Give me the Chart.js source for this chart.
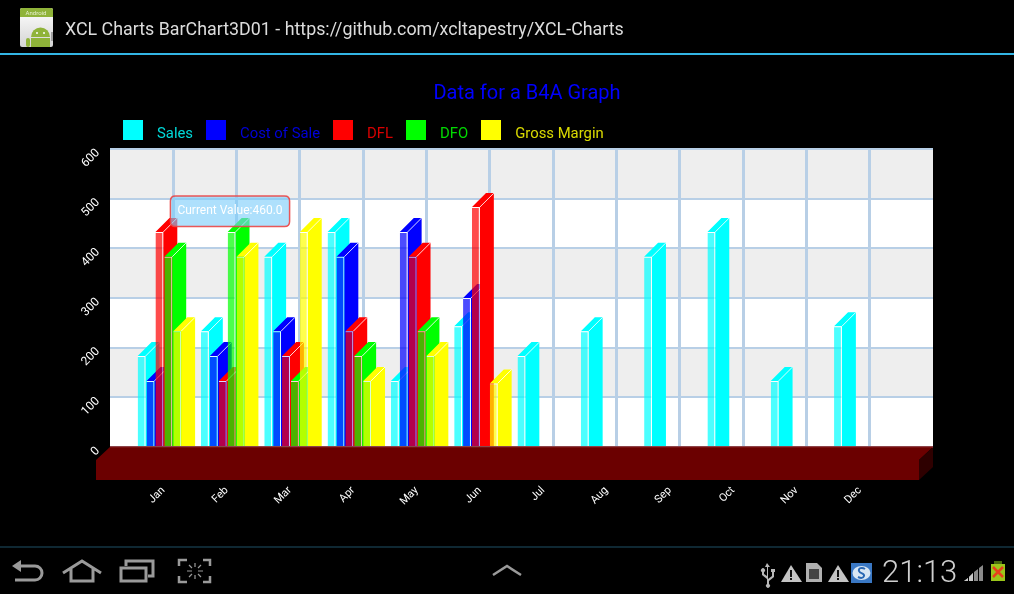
<!DOCTYPE html>
<html lang="en">
<head>
<meta charset="UTF-8">
<title>XCL Charts BarChart3D01</title>
<script src="https://cdn.jsdelivr.net/npm/chart.js"></script>
<style>
    html, body { margin: 0; padding: 0; background: #000; width: 1014px; height: 594px; overflow: hidden; font-family: Roboto, sans-serif; }
    #chart { position: absolute; left: 0; top: 0; }
    .abs { position: absolute; }
    #appTitle { left: 65px; top: 18px; color: #dcdcdc; font-size: 17.85px; line-height: 22px; white-space: nowrap; }
    #topLine { left: 0; top: 53px; width: 1014px; height: 2px; background: #33b5e5; }
    #bottomLine { left: 0; top: 546px; width: 1014px; height: 2px; background: #0f2833; }
    #clock { left: 882px; top: 553px; color: #d0d0d0; font-size: 31px; line-height: 38px; font-weight: 300; }
    #legend { left: 123px; top: 120px; height: 26px; display: flex; font-size: 14.85px; }
    #legend .box { width: 20px; height: 20px; margin-right: 14px; }
    #legend .name { margin-right: 13px; line-height: 26px; opacity: 0.85; }
</style>
</head>
<body>
<canvas id="chart" width="1014" height="594"></canvas>

<!-- Android system bars around the chart -->
<svg class="abs" style="left:20px;top:8px" width="33" height="40" viewBox="0 0 33 40">
    <defs>
        <linearGradient id="iconBg" x1="0" y1="0" x2="0" y2="1">
            <stop offset="0" stop-color="#ffffff"/>
            <stop offset="1" stop-color="#d4d4d4"/>
        </linearGradient>
    </defs>
    <rect width="33" height="39" rx="2" fill="url(#iconBg)"/>
    <path d="M0 2a2 2 0 0 1 2-2h29a2 2 0 0 1 2 2v7H0z" fill="#8fb339"/>
    <text x="16" y="7" font-size="6" fill="#e8f0d0" text-anchor="middle" font-family="Roboto">Android</text>
    <path d="M11 29a9.500 9.500 0 0 1 19 0z" fill="#8fb339"/>
    <rect x="11" y="30" width="19" height="9" fill="#8fb339"/>
    <rect x="6" y="30" width="4" height="9" rx="2" fill="#8fb339"/>
    <rect x="31" y="24" width="2" height="9" fill="#a0a0a0"/>
    <circle cx="17" cy="25" r="1" fill="#fff"/>
    <circle cx="24" cy="25" r="1" fill="#fff"/>
</svg>
<div id="appTitle" class="abs">XCL Charts BarChart3D01 - https://github.com/xcltapestry/XCL-Charts</div>
<div id="topLine" class="abs"></div>
<div id="legend" class="abs"></div>
<div id="bottomLine" class="abs"></div>

<svg class="abs" style="left:0;top:548px" width="540" height="46" viewBox="0 548 540 46" fill="none" stroke="#9a9a9a" stroke-width="3">
    <path d="M20 566h15a7 7 0 0 1 0 14H15"/>
    <path d="M21 560l-9 6 9 6z" fill="#9a9a9a" stroke="none"/>
    <path d="M63 573l19-12 19 12M71 569v12h22v-12"/>
    <rect x="121" y="568" width="25" height="13"/>
    <path d="M126 566v-5h27v15h-5"/>
    <path d="M179 566v-6h8M203 560h7v6M179 576v6h8M203 582h7v-6" stroke-width="2.5"/>
    <path d="M187 571h5M198 571h5M195 563v4M195 575v4M189 565l3 3M198 574l3 3M201 565l-3 3M192 574l-3 3" stroke-width="1.2"/>
    <path d="M493 575l14-9 14 9" stroke-width="2.5"/>
</svg>

<svg class="abs" style="left:755px;top:555px" width="259" height="34" viewBox="755 555 259 34">
    <path d="M767 563l3 4h-2v12l4-3v-4h-1v-3h4v3h-1v5l-5 4v3a2 2 0 1 1-2 0v-5l-5-4v-3a2 2 0 1 1 2 0v2l3 2v-9h-2z" fill="#b8b8b8"/>
    <path d="M791 565l11 17h-21z" fill="#c4c4c4"/>
    <path d="M790 570h2v7h-2zM790 578h2v2h-2z" fill="#111"/>
    <path d="M806 563h11l5 5v14h-16z" fill="#b0b0b0"/>
    <rect x="809" y="569" width="10" height="10" fill="#444"/>
    <path d="M838 565l11 17h-21z" fill="#c4c4c4"/>
    <path d="M837 570h2v7h-2zM837 578h2v2h-2z" fill="#111"/>
    <rect x="851" y="563" width="21" height="20" fill="#3a78c4"/>
    <ellipse cx="861.5" cy="573" rx="9" ry="7" fill="#d8e6f4"/>
    <path d="M865 569c-3-2-7-1-6 2s6 2 5 5-4 2-6 1" fill="none" stroke="#2a68b4" stroke-width="2"/>
    <path d="M964 581l4-3v3zM969 581v-4l4-4v8zM974 581v-9l4-3v12zM979 581v-13l4-3v16z" fill="#8a8a8a"/>
    <path d="M964 581l4-3v3zM969 581v-4l4-4v8z" fill="#c8c8c8"/>
    <rect x="994" y="561" width="8" height="3" fill="#4a6b10"/>
    <rect x="991" y="564" width="14" height="17" fill="#9bc61a"/>
    <path d="M993 567l10 10M1003 567l-10 10" stroke="#e8401c" stroke-width="2.5"/>
</svg>
<div id="clock" class="abs">21:13</div>

<script>
    const months = ['Jan', 'Feb', 'Mar', 'Apr', 'May', 'Jun', 'Jul', 'Aug', 'Sep', 'Oct', 'Nov', 'Dec'];
    const seriesNames = ['Sales', 'Cost of Sale', 'DFL', 'DFO', 'Gross Margin'];
    const seriesColors = ['#00ffff', '#0000ff', '#ff0000', '#00ff00', '#ffff00'];

    const sales = [183, 233, 383, 433, 133, 243, 183, 233, 383, 433, 133, 243];
    const costOfSale = [133, 183, 233, 383, 433, 300, null, null, null, null, null, null];
    const dfl = [433, 133, 183, 233, 383, 483, null, null, null, null, null, null];
    const dfo = [383, 433, 133, 183, 233, null, null, null, null, null, null, null];
    const grossMargin = [233, 383, 433, 133, 183, 128, null, null, null, null, null, null];
    const allSeries = [sales, costOfSale, dfl, dfo, grossMargin];

    const yTicks = [0, 100, 200, 300, 400, 500, 600];
    const tooltipText = 'Current Value:460.0';

    const DEPTH = 14;

    // legend is plain html because the box to text gap can't be set on the built-in one
    const legendEl = document.getElementById('legend');
    seriesNames.forEach((name, i) => {
        const box = document.createElement('div');
        box.className = 'box';
        box.style.background = seriesColors[i];
        const label = document.createElement('div');
        label.className = 'name';
        label.style.color = seriesColors[i];
        label.textContent = name;
        legendEl.append(box, label);
    });

    function withAlpha(hex, a) {
        const n = parseInt(hex.slice(1), 16);
        return `rgba(${n >> 16}, ${(n >> 8) & 255}, ${n & 255}, ${a})`;
    }

    // grey bands behind the grid, dark red floor, and 3D faces for the bars
    const bar3d = {
        id: 'bar3d',
        afterLayout(chart) {
            chart.titleBlock.left = 40;
            chart.titleBlock.right = 1014;
        },
        beforeDraw(chart) {
            const { ctx, chartArea, scales } = chart;
            ctx.save();
            ctx.fillStyle = '#ffffff';
            ctx.fillRect(chartArea.left, chartArea.top, chartArea.width, chartArea.height);
            ctx.fillStyle = '#eeeeee';
            for (let i = 1; i < yTicks.length - 1; i += 2) {
                const top = scales.y.getPixelForValue(yTicks[i + 1]);
                const bottom = scales.y.getPixelForValue(yTicks[i]);
                ctx.fillRect(chartArea.left, top, chartArea.width, bottom - top);
            }
            ctx.restore();
        },
        beforeDatasetsDraw(chart) {
            const { ctx, chartArea } = chart;
            const { left, right, bottom } = chartArea;
            ctx.save();
            // floor
            ctx.fillStyle = '#6b0000';
            ctx.beginPath();
            ctx.moveTo(left, bottom);
            ctx.lineTo(right, bottom);
            ctx.lineTo(right - DEPTH, bottom + 13);
            ctx.lineTo(right - DEPTH, bottom + 33);
            ctx.lineTo(left - DEPTH, bottom + 33);
            ctx.lineTo(left - DEPTH, bottom + 13);
            ctx.closePath();
            ctx.fill();
            ctx.fillStyle = '#2e0000';
            ctx.beginPath();
            ctx.moveTo(right, bottom);
            ctx.lineTo(right, bottom + 20);
            ctx.lineTo(right - DEPTH, bottom + 33);
            ctx.lineTo(right - DEPTH, bottom + 13);
            ctx.closePath();
            ctx.fill();

            // left series has to end up underneath, so draw in series order
            chart.getSortedVisibleDatasetMetas().forEach((meta, s) => {
                meta.data.forEach((bar, i) => {
                    if (allSeries[s][i] === null) return;
                    const p = bar.getProps(['x', 'y', 'base', 'width'], true);
                    const x1 = p.x - p.width / 2;
                    const x2 = p.x + p.width / 2;
                    ctx.fillStyle = seriesColors[s];
                    ctx.beginPath();
                    ctx.moveTo(x1, p.y);
                    ctx.lineTo(x1 + DEPTH, p.y - DEPTH);
                    ctx.lineTo(x2 + DEPTH, p.y - DEPTH);
                    ctx.lineTo(x2 + DEPTH, p.base);
                    ctx.lineTo(x2, p.base);
                    ctx.lineTo(x2, p.y);
                    ctx.closePath();
                    ctx.fill();
                    ctx.strokeStyle = 'rgba(255, 255, 255, 0.85)';
                    ctx.lineWidth = 1;
                    ctx.beginPath();
                    ctx.moveTo(x2, p.y);
                    ctx.lineTo(x2 + DEPTH, p.y - DEPTH);
                    ctx.stroke();
                });
                meta.controller.draw();
            });

            // back edge of the floor runs over the feet of the bars
            ctx.strokeStyle = 'rgba(125, 20, 20, 0.75)';
            ctx.lineWidth = 2;
            ctx.beginPath();
            ctx.moveTo(left, bottom);
            ctx.lineTo(right, bottom);
            ctx.stroke();
            ctx.restore();
            return false;
        }
    };

    Chart.Tooltip.positioners.fixedBox = function () {
        return { x: 230, y: 194, xAlign: 'center', yAlign: 'top' };
    };

    const chart = new Chart(document.getElementById('chart'), {
        type: 'bar',
        data: {
            datasets: allSeries.map((values, s) => ({
                label: seriesNames[s],
                data: values.map((v, i) => ({ x: i + 1, y: v })),
                backgroundColor: withAlpha(seriesColors[s], 0.7),
                borderColor: 'rgba(255, 255, 255, 0.85)',
                borderWidth: { top: 1, right: 1, left: 0, bottom: 0 },
                borderSkipped: false,
                categoryPercentage: 0.703,
                barPercentage: 0.88
            }))
        },
        plugins: [bar3d],
        options: {
            responsive: false,
            animation: false,
            events: [],
            layout: { padding: { right: 81 } },
            scales: {
                x: {
                    type: 'linear',
                    offset: false,
                    min: 0.22,
                    max: 13.22,
                    grid: { display: false },
                    border: { display: false },
                    afterBuildTicks(scale) {
                        scale.ticks = months.map((m, i) => ({ value: i + 1 }));
                    },
                    afterFit(scale) { scale.height = 147; },
                    ticks: {
                        color: '#ffffff',
                        font: { family: 'Roboto', size: 11 },
                        autoSkip: false,
                        minRotation: 45,
                        maxRotation: 45,
                        padding: 29,
                        labelOffset: 4,
                        callback: value => months[value - 1]
                    }
                },
                // vertical grid sits between months, not under the bar groups
                xGrid: {
                    type: 'linear',
                    position: 'bottom',
                    offset: false,
                    min: 0,
                    max: 13,
                    afterFit(scale) { scale.height = 0; },
                    border: { display: false },
                    ticks: { display: false, stepSize: 1 },
                    grid: {
                        offset: false,
                        drawTicks: false,
                        lineWidth: 3,
                        color: c => (c.index === 0 || c.index === 13) ? 'transparent' : '#b8cfe6'
                    }
                },
                y: {
                    min: 0,
                    max: 600,
                    afterFit(scale) { scale.width = 110; },
                    border: { display: false },
                    grid: { color: '#b8cfe6', lineWidth: 2, drawTicks: false },
                    ticks: {
                        stepSize: 100,
                        color: '#ffffff',
                        font: { family: 'Roboto', size: 12 },
                        minRotation: 45,
                        maxRotation: 45,
                        padding: 12,
                        labelOffset: 2
                    }
                }
            },
            plugins: {
                legend: { display: false },
                title: {
                    display: true,
                    text: 'Data for a B4A Graph',
                    color: '#0000ff',
                    font: { family: 'Roboto', size: 20, weight: 'normal' },
                    padding: { top: 82, bottom: 43 }
                },
                tooltip: {
                    enabled: true,
                    position: 'fixedBox',
                    displayColors: false,
                    backgroundColor: 'rgba(125, 205, 250, 0.62)',
                    borderColor: 'rgba(235, 70, 70, 0.9)',
                    borderWidth: 1.5,
                    cornerRadius: 5,
                    caretSize: 0,
                    padding: { x: 7, y: 8 },
                    bodyColor: '#ffffff',
                    bodyFont: { family: 'Roboto', size: 12 },
                    callbacks: {
                        title: () => '',
                        label: () => tooltipText
                    }
                }
            }
        }
    });

    chart.tooltip.setActiveElements([{ datasetIndex: 2, index: 0 }], { x: 230, y: 194 });
    chart.update();
</script>
</body>
</html>
